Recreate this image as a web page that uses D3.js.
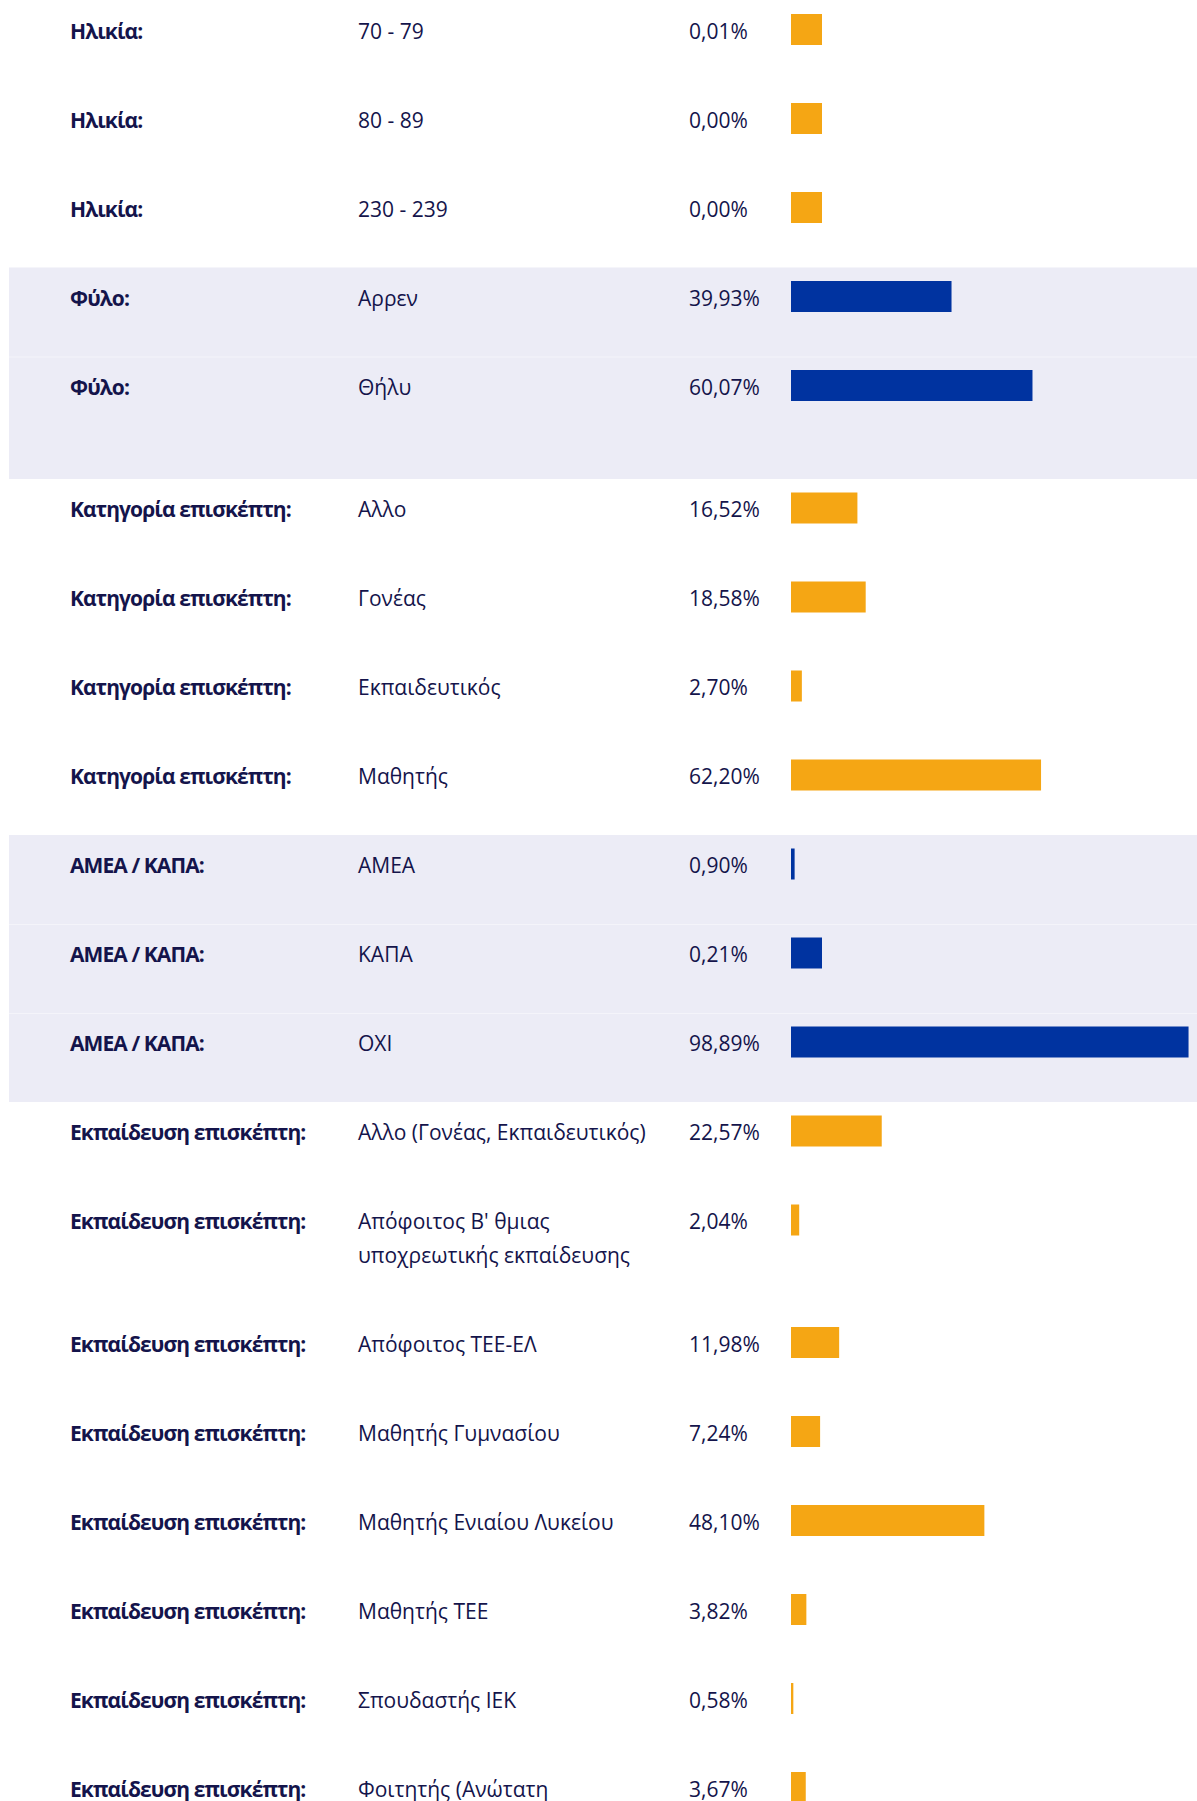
<!DOCTYPE html>
<html lang="el">
<head>
<meta charset="utf-8">
<title>Στατιστικά επισκεπτών</title>
<script src="https://cdn.jsdelivr.net/npm/d3@7"></script>
<style>
  html, body { margin: 0; padding: 0; background: #ffffff; }
  svg { display: block; }
  text { font-family: "Open Sans", "Noto Sans", sans-serif; font-size: 21px; fill: #14144b; }
  .grp { font-weight: 700; letter-spacing: -0.9px; }
</style>
</head>
<body>
<svg id="chart"></svg>
<script>
// Visitor breakdown: one group per question, one row per answer.
const groupNames = ["Ηλικία:", "Φύλο:", "Κατηγορία επισκέπτη:", "ΑΜΕΑ / ΚΑΠΑ:", "Εκπαίδευση επισκέπτη:"];

const ageCategories = ["70 - 79", "80 - 89", "230 - 239"];
const ageValues = [0.01, 0.00, 0.00];

const sexCategories = ["Αρρεν", "Θήλυ\n"];
const sexValues = [39.93, 60.07];

const visitorCategories = ["Αλλο", "Γονέας", "Εκπαιδευτικός", "Μαθητής"];
const visitorValues = [16.52, 18.58, 2.70, 62.20];

const disabilityCategories = ["ΑΜΕΑ", "ΚΑΠΑ", "ΟΧΙ"];
const disabilityValues = [0.90, 0.21, 98.89];

const educationCategories = [
  "Αλλο (Γονέας, Εκπαιδευτικός)",
  "Απόφοιτος Β' θμιας\nυποχρεωτικής εκπαίδευσης",
  "Απόφοιτος ΤΕΕ-ΕΛ",
  "Μαθητής Γυμνασίου",
  "Μαθητής Ενιαίου Λυκείου",
  "Μαθητής ΤΕΕ",
  "Σπουδαστής ΙΕΚ",
  "Φοιτητής (Ανώτατη\nΕκπαίδευση)"
];
const educationValues = [22.57, 2.04, 11.98, 7.24, 48.10, 3.82, 0.58, 3.67];

const groupCategories = [ageCategories, sexCategories, visitorCategories, disabilityCategories, educationCategories];
const groupValues = [ageValues, sexValues, visitorValues, disabilityValues, educationValues];

// Layout
const W = 1197, H = 1801;
const rowH = 89, lineH = 33.5, topY = 0.5;
const colGroup = 70, colCat = 358, colPct = 689, barX = 791;
const barH = 31, barTop = 13.5, textBase = 38;
const bandX = 9;
const orange = "#f5a614", blue = "#0033a0", band = "#ececf6", sep = "#f4f4fa";

const greek = d3.formatLocale({ decimal: ",", thousands: ".", grouping: [3], currency: ["", " €"] });
const fmt = greek.format(".2f");

const x = d3.scaleLinear().domain([0, 100]).range([0, 402]);

// Flatten into rows with vertical positions
const rows = [];
const groups = [];
let y = topY;
groupNames.forEach((name, gi) => {
  const gStart = y;
  groupCategories[gi].forEach((cat, ci) => {
    const lines = cat.split("\n");
    const h = rowH + lineH * (lines.length - 1);
    rows.push({ group: name, gi, lines, value: groupValues[gi][ci], y0: y, first: ci === 0 });
    y += h;
  });
  groups.push({ gi, y0: gStart, y1: y });
});

const svg = d3.select("#chart").attr("width", W).attr("height", H);

// Shaded bands on alternate groups
svg.append("g").selectAll("rect")
  .data(groups.filter(g => g.gi % 2 === 1))
  .join("rect")
  .attr("x", bandX).attr("y", d => d.y0)
  .attr("width", W - bandX).attr("height", d => d.y1 - d.y0)
  .attr("fill", band);

// Faint row separators inside shaded bands
svg.append("g").selectAll("line")
  .data(rows.filter(r => r.gi % 2 === 1 && !r.first))
  .join("line")
  .attr("x1", bandX).attr("x2", W)
  .attr("y1", d => d.y0 + 0.5).attr("y2", d => d.y0 + 0.5)
  .attr("stroke", sep).attr("stroke-width", 1);

const row = svg.append("g").selectAll("g")
  .data(rows)
  .join("g")
  .attr("transform", d => `translate(0,${d.y0})`);

row.append("text")
  .attr("class", "grp")
  .attr("x", colGroup).attr("y", textBase)
  .text(d => d.group);

row.append("text")
  .attr("x", colCat).attr("y", textBase)
  .selectAll("tspan")
  .data(d => d.lines)
  .join("tspan")
  .attr("x", colCat)
  .attr("dy", (d, i) => i === 0 ? 0 : 34)
  .text(d => d);

row.append("text")
  .attr("x", colPct).attr("y", textBase)
  .text(d => fmt(d.value) + "%");

// Bars; shares narrower than one pixel get a square placeholder block
row.append("rect")
  .attr("x", barX).attr("y", barTop)
  .attr("width", d => x(d.value) < 1 ? barH : x(d.value))
  .attr("height", barH)
  .attr("fill", d => d.gi % 2 === 1 ? blue : orange);
</script>
</body>
</html>
